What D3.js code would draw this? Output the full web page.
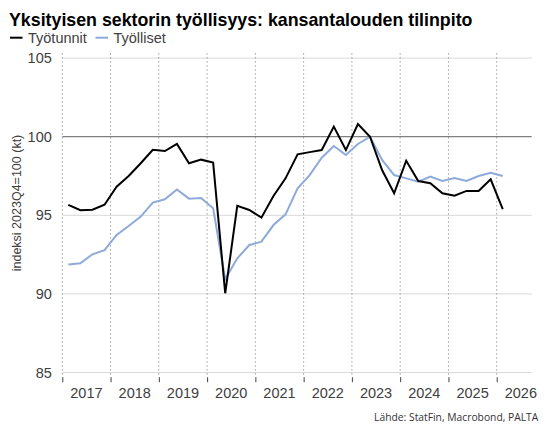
<!DOCTYPE html>
<html lang="fi">
<head>
<meta charset="UTF-8">
<title>Yksityisen sektorin työllisyys</title>
<style>
  body { margin: 0; padding: 0; background: #fff; overflow: hidden; }
  svg { display: block; font-family: "Liberation Sans", Arial, sans-serif; }
</style>
</head>
<body>
<div id="chart"></div>
<script src="https://d3js.org/d3.v7.min.js"></script>
<script>
// Neljännekset 2017Q1 - 2026Q1
const quarters = [
  "2017Q1","2017Q2","2017Q3","2017Q4","2018Q1","2018Q2","2018Q3","2018Q4",
  "2019Q1","2019Q2","2019Q3","2019Q4","2020Q1","2020Q2","2020Q3","2020Q4",
  "2021Q1","2021Q2","2021Q3","2021Q4","2022Q1","2022Q2","2022Q3","2022Q4",
  "2023Q1","2023Q2","2023Q3","2023Q4","2024Q1","2024Q2","2024Q3","2024Q4",
  "2025Q1","2025Q2","2025Q3","2025Q4","2026Q1"
];
// Työtunnit
const hours = [
  95.66, 95.32, 95.36, 95.67, 96.82, 97.50, 98.31, 99.17,
  99.09, 99.54, 98.31, 98.54, 98.35, 90.04, 95.60, 95.34,
  94.85, 96.23, 97.35, 98.88, 99.02, 99.15, 100.64, 99.15,
  100.81, 100.00, 97.88, 96.40, 98.47, 97.18, 97.04, 96.40,
  96.25, 96.55, 96.55, 97.29, 95.40
];
// Työlliset
const employed = [
  91.87, 91.95, 92.52, 92.78, 93.75, 94.32, 94.92, 95.81,
  96.02, 96.64, 96.06, 96.10, 95.45, 90.93, 92.26, 93.11,
  93.32, 94.38, 95.06, 96.72, 97.56, 98.66, 99.41, 98.84,
  99.54, 100.00, 98.52, 97.56, 97.35, 97.14, 97.46, 97.18,
  97.37, 97.18, 97.50, 97.71, 97.50
];
const years = [2017, 2018, 2019, 2020, 2021, 2022, 2023, 2024, 2025, 2026];
const yTicks = [85, 90, 95, 100, 105];

const width = 550, height = 435;
const plotLeft = 62.3, plotRight = 531.7, plotTop = 53.4, plotBottom = 377.2;

const svg = d3.select("#chart").append("svg")
  .attr("width", width)
  .attr("height", height);

// vuosi + neljänneksen keskikohta
const qPos = q => +q.slice(0, 4) + (+q.slice(5) - 0.5) / 4;

const x = d3.scaleLinear().domain([2017, 2026.725]).range([plotLeft, plotRight]);
const y = d3.scaleLinear().domain([84.7, 105.3]).range([plotBottom, plotTop]);

// vaakaviivat
svg.append("g").selectAll("line")
  .data(yTicks)
  .enter().append("line")
  .attr("x1", plotLeft).attr("x2", plotRight)
  .attr("y1", d => y(d)).attr("y2", d => y(d))
  .attr("stroke", d => d === 100 ? "#808080" : "#d9d9d9")
  .attr("stroke-width", d => d === 100 ? 1.2 : 1);

// pystyviivat (pisteviiva)
svg.append("g").selectAll("line")
  .data(years)
  .enter().append("line")
  .attr("x1", d => x(d)).attr("x2", d => x(d))
  .attr("y1", plotTop).attr("y2", plotBottom)
  .attr("stroke", "#707070")
  .attr("stroke-width", 1)
  .attr("stroke-dasharray", "1,3");

// x-akseli: tikit vuosien rajoilla, nimet vuoden keskellä
const xAxis = svg.append("g").attr("transform", `translate(0,${plotBottom})`);
xAxis.call(d3.axisBottom(x).tickValues(years).tickSize(5).tickFormat(""))
  .call(g => g.select(".domain").remove())
  .call(g => g.selectAll(".tick line").attr("stroke", "#404040"));
xAxis.selectAll(".year")
  .data(years)
  .enter().append("text")
  .attr("class", "year")
  .attr("x", d => x(d + 0.5))
  .attr("y", 20.5)
  .attr("text-anchor", "middle")
  .attr("font-size", 14.5)
  .attr("fill", "#404040")
  .text(d => d);

// y-akseli
const yAxis = svg.append("g").attr("transform", `translate(${plotLeft},0)`);
yAxis.call(d3.axisLeft(y).tickValues(yTicks).tickSize(0).tickPadding(10.5))
  .call(g => g.select(".domain").remove())
  .call(g => g.selectAll(".tick text")
    .attr("font-size", 14.5)
    .attr("font-family", "Liberation Sans, Arial, sans-serif")
    .attr("fill", "#404040"));

svg.append("text")
  .attr("transform", `translate(20.5,203) rotate(-90)`)
  .attr("text-anchor", "middle")
  .attr("font-size", 12.5)
  .attr("fill", "#404040")
  .text("indeksi 2023Q4=100 (kt)");

// sarjat
const series = [
  { name: "Työtunnit", values: hours, color: "#000000" },
  { name: "Työlliset", values: employed, color: "#8eaadb" }
];

const line = d3.line()
  .x((d, i) => x(qPos(quarters[i])))
  .y(d => y(d));

svg.append("g").selectAll("path")
  .data(series.slice().reverse())
  .enter().append("path")
  .attr("d", d => line(d.values))
  .attr("fill", "none")
  .attr("stroke", d => d.color)
  .attr("stroke-width", 2)
  .attr("stroke-linejoin", "miter");

// otsikko
svg.append("text")
  .attr("x", 9)
  .attr("y", 26)
  .attr("font-size", 17.8)
  .attr("font-weight", "bold")
  .attr("fill", "#000")
  .text("Yksityisen sektorin työllisyys: kansantalouden tilinpito");

// selite
const legendX = [10, 95.5];
const legend = svg.append("g").selectAll("g")
  .data(series)
  .enter().append("g")
  .attr("transform", (d, i) => `translate(${legendX[i]},0)`);
legend.append("line")
  .attr("x1", 0).attr("x2", 12.5)
  .attr("y1", 37.7).attr("y2", 37.7)
  .attr("stroke", d => d.color)
  .attr("stroke-width", 2);
legend.append("text")
  .attr("x", 18)
  .attr("y", 43.3)
  .attr("font-size", 14.5)
  .attr("fill", "#404040")
  .text(d => d.name);

// lähde
svg.append("text")
  .attr("x", 538.3)
  .attr("y", 420.7)
  .attr("text-anchor", "end")
  .attr("font-family", "'Open Sans', 'Noto Sans', sans-serif")
  .attr("font-size", 10.3)
  .attr("fill", "#333")
  .text("Lähde: StatFin, Macrobond, PALTA");
</script>
</body>
</html>
